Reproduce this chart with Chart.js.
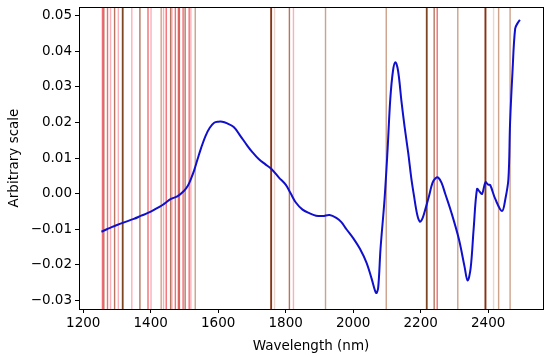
<!DOCTYPE html>
<html><head><meta charset="utf-8">
<script src="https://cdn.jsdelivr.net/npm/chart.js@4"></script>
<style>html,body{margin:0;padding:0;background:#fff}#wrap{width:550px;height:357px}</style>
</head><body><div id="wrap"><canvas id="c" width="550" height="357"></canvas></div>
<script>
const wavelengths = [1254,1270,1284,1300,1323,1350,1372,1390,1411,1435,1460,1480,1499,1510,1519,1529,1539,1550,1563,1575,1588,1600,1612,1625,1646,1665,1686,1700,1720,1740,1757,1780,1800,1815,1830,1850,1870,1890,1910,1930,1950,1965,1980,2000,2020,2040,2055,2068,2074,2081,2093,2102,2110,2118,2125,2133,2143,2152,2163,2172,2180,2190,2198,2206,2215,2225,2235,2244,2252,2262,2273,2290,2313,2330,2339,2348,2357,2367,2375,2382,2392,2400,2406,2421,2441,2451,2460,2465,2472,2480,2488,2494];
const signal = [-0.0107,-0.0100,-0.0094,-0.0088,-0.0080,-0.0071,-0.0062,-0.0055,-0.0045,-0.0032,-0.0015,-0.0007,0.0008,0.0022,0.0041,0.0066,0.0097,0.0130,0.0163,0.0185,0.0199,0.0202,0.0202,0.0198,0.0187,0.0163,0.0135,0.0118,0.0097,0.0082,0.0070,0.0045,0.0025,0.0000,-0.0025,-0.0045,-0.0055,-0.0062,-0.0063,-0.0060,-0.0068,-0.0080,-0.0100,-0.0125,-0.0155,-0.0195,-0.0240,-0.0279,-0.0265,-0.0155,-0.0015,0.0125,0.0266,0.0345,0.0369,0.0345,0.0260,0.0190,0.0115,0.0045,-0.0005,-0.0060,-0.0079,-0.0068,-0.0040,-0.0006,0.0030,0.0043,0.0045,0.0030,-0.0001,-0.0050,-0.0127,-0.0205,-0.0244,-0.0210,-0.0099,0.0013,0.0005,-0.0001,0.0032,0.0025,0.0024,-0.0015,-0.0049,-0.0015,0.0041,0.0200,0.0340,0.0463,0.0480,0.0488];
const markerWavelengths = [1257,1261,1272,1281,1293,1304,1317,1344,1368,1392,1401,1431,1438,1446,1459,1463,1473,1482,1485,1496,1502,1514,1519,1532,1757,1757,1767,1811,1823,1918,2098,2218,2240,2249,2310,2392,2392,2416,2431,2465];
const markerKinds = ['r','b','r','p','b','p','d','p','b','r','p','t','p','r','b','p','r','r','b','r','b','r','p','t','r','d','f','b','p','t','t','d','b','r','t','r','d','f','t','t'];
const xTicks = [1200,1400,1600,1800,2000,2200,2400];
const yTicks = [-0.03,-0.02,-0.01,0.00,0.01,0.02,0.03,0.04,0.05];

const kindColor = {r:'rgba(235,30,40,0.65)',b:'rgba(150,60,30,0.7)',d:'rgba(110,50,10,0.9)',p:'rgba(245,80,100,0.45)',t:'rgba(170,100,60,0.6)',f:'rgba(200,140,120,0.35)'};
const FONT = {family:'"DejaVu Sans", sans-serif', size:13.5};

const markers = {
  id:'markers',
  beforeDatasetsDraw(chart){
    const {ctx, chartArea:a, scales:{x}} = chart;
    ctx.save();
    ctx.beginPath(); ctx.rect(a.left,a.top,a.right-a.left,a.bottom-a.top); ctx.clip();
    markerWavelengths.forEach((w,i)=>{
      const px = x.getPixelForValue(w);
      ctx.strokeStyle = kindColor[markerKinds[i]];
      ctx.lineWidth = markerKinds[i]==='d'?1.8:1.4;
      ctx.beginPath(); ctx.moveTo(px,a.top); ctx.lineTo(px,a.bottom); ctx.stroke();
    });
    ctx.restore();
  },
  afterDraw(chart){
    const {ctx, chartArea:a} = chart;
    ctx.save(); ctx.strokeStyle='#000'; ctx.lineWidth=1;
    ctx.strokeRect(Math.round(a.left)+0.5,Math.round(a.top)+0.5,Math.round(a.right-a.left),Math.round(a.bottom-a.top));
    ctx.restore();
  }
};

new Chart(document.getElementById('c'),{
  type:'line',
  data:{datasets:[{data:wavelengths.map((w,i)=>({x:w,y:signal[i]})),borderColor:'#1010cc',borderWidth:2,pointRadius:0,tension:0.35,fill:false}]},
  options:{
    responsive:false,animation:false,
    layout:{padding:{top:7,right:7,left:0,bottom:0}},
    plugins:{legend:{display:false},tooltip:{enabled:false}},
    scales:{
      x:{type:'linear',min:1187.5,max:2562.5,
        afterBuildTicks(s){s.ticks = xTicks.map(v=>({value:v}));},
        afterFit(s){s.height=48;s.paddingLeft=0;s.paddingRight=0;},
        ticks:{color:'#000',font:FONT,padding:2,maxRotation:0,callback:v=>String(v)},
        grid:{drawOnChartArea:false,drawTicks:true,tickLength:4,color:'#000'},
        border:{display:true,color:'#000'},
        title:{display:true,text:'Wavelength (nm)',color:'#000',font:FONT,padding:{top:0,bottom:2}}
      },
      y:{type:'linear',min:-0.0324,max:0.0524,
        afterBuildTicks(s){s.ticks = yTicks.map(v=>({value:v}));},
        afterFit(s){s.width=79;s.paddingTop=0;s.paddingBottom=0;},
        ticks:{color:'#000',font:FONT,padding:3,callback:v=>{const t=Math.abs(v).toFixed(2);return (v<-1e-9?'\u2212':'')+t;}},
        grid:{drawOnChartArea:false,drawTicks:true,tickLength:4,color:'#000'},
        border:{display:true,color:'#000'},
        title:{display:true,text:'Arbitrary scale',color:'#000',font:FONT,padding:{top:6,bottom:4}}
      }
    }
  },
  plugins:[markers]
});
</script></body></html>
